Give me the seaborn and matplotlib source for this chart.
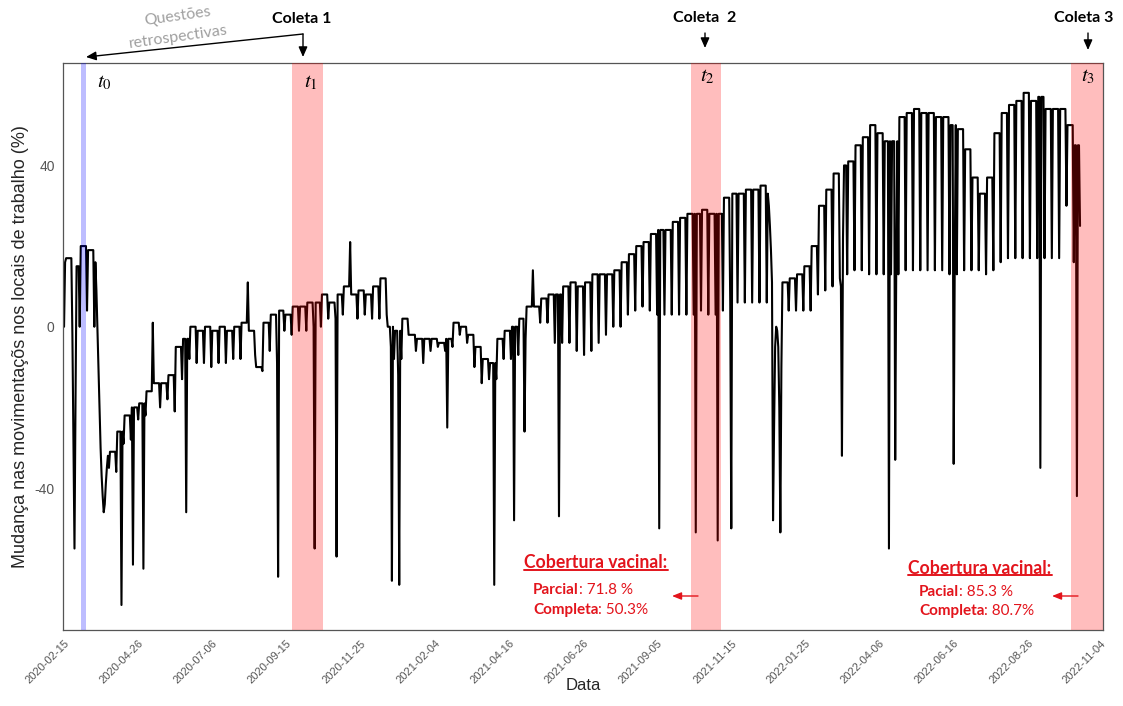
import numpy as np
import pandas as pd
import matplotlib
matplotlib.use("Agg")
import matplotlib.pyplot as plt
import seaborn as sns
from matplotlib.lines import Line2D

# ---------------- data ----------------
start_date = "2020-02-15"
end_date = "2022-10-15"
first_days = [0, 16]  # Sat 15/Feb and Sun 16/Feb 2020

# weekly levels: Mon-Sat value and Sunday value (weeks start Mon 2020-02-17)
week_hi = [17, 15, 20, 19, 16, -42, -31, -26, -22, -20,
           -19, -16, -14, -14, -12, -5, -3, 0, -1, 0,
           -1, 0, -1, 0, 1, -1, -10, 1, 3, 4,
           3, 5, 5, 6, 6, 8, 6, 8, 10, 8,
           9, 8, 10, 12, 0, -1, 2, -2, -3, -3,
           -3, -4, -3, 1, 0, -2, -5, -8, -9, -3,
           -1, 0, 2, 5, 5, 7, 8, 8, 10, 11,
           10, 11, 13, 13, 13, 14, 16, 18, 20, 21,
           23, 24, 24, 26, 27, 28, 28, 29, 28, 28,
           32, 33, 33, 34, 34, 35, 33, 0, 11, 12,
           13, 15, 20, 30, 34, 38, 40, 41, 45, 47,
           50, 48, 46, 46, 52, 53, 54, 53, 53, 52,
           52, 50, 49, 44, 37, 33, 37, 48, 53, 55,
           56, 58, 56, 57, 54, 54, 54, 50, 45]
week_lo = [-2, 0, 4, 0, -35, -35, -36, -29, -28, -23,
           -22, -19, -20, -18, -21, -13, -8, -9, -9, -10,
           -9, -9, -8, -8, -7, -7, -11, -6, -9, -1,
           -2, -1, -1, 0, 0, 2, 2, 3, 3, 2,
           3, 2, 2, 3, -8, -8, -2, -6, -9, -6,
           -5, -6, -5, -2, -4, -10, -14, -13, -13, -8,
           -8, -7, -3, 0, 1, 1, -4, -4, -4, -6,
           -7, -6, -4, -2, 0, 0, 3, 4, 5, 4,
           3, 3, 3, 3, 3, 3, 4, 3, 3, 4,
           6, 6, 6, 6, 6, 6, 11, -5, 4, 4,
           4, 4, 8, 9, 10, 12, 13, 14, 14, 13,
           13, 13, 13, 13, 14, 14, 14, 14, 14, 14,
           13, 13, 14, 14, 14, 13, 14, 16, 17, 17,
           17, 17, 17, 17, 17, 17, 17, 16, 25]

# individual days (holidays, lockdown onset, elections...)
special_dates = ["2020-02-24", "2020-02-25", "2020-02-26",
                 "2020-03-16", "2020-03-17", "2020-03-18", "2020-03-19", "2020-03-20",
                 "2020-03-21", "2020-03-22", "2020-03-23", "2020-03-24", "2020-03-25",
                 "2020-03-26", "2020-03-27", "2020-03-28", "2020-03-29",
                 "2020-04-10", "2020-04-21", "2020-05-01", "2020-05-10", "2020-06-11",
                 "2020-08-09", "2020-09-07", "2020-10-12", "2020-11-02", "2020-11-15",
                 "2020-12-24", "2020-12-25", "2020-12-31", "2021-01-01",
                 "2021-02-16", "2021-04-02", "2021-04-21", "2021-05-01", "2021-05-09",
                 "2021-06-03", "2021-09-07", "2021-10-12", "2021-11-02", "2021-11-15",
                 "2021-12-20", "2021-12-21", "2021-12-22", "2021-12-23", "2021-12-24",
                 "2021-12-25", "2021-12-26", "2021-12-27", "2021-12-28", "2021-12-29",
                 "2021-12-30", "2021-12-31", "2022-01-01", "2022-01-02",
                 "2022-02-28", "2022-03-01", "2022-03-02", "2022-04-15", "2022-04-21",
                 "2022-04-22", "2022-06-16", "2022-06-17", "2022-09-07", "2022-10-02",
                 "2022-10-12", "2022-10-15"]
special_vals = [-28, -55, -18,
                16, 9, -1, -11, -21,
                -30, -37, -42, -46, -44,
                -39, -35, -32, -35,
                -69, -59, -60, 1, -46,
                11, -62, -55, -57, 21,
                -5, -63, -12, -64,
                -25, -64, -48, -26, 14,
                -47, -50, -51, -53, -50,
                33, 30, 25, 19, 11,
                -48, -25, -5, 0, -1,
                -5, -20, -51, -10,
                10, -32, 22, -55, -33,
                15, -34, 15, -35, 30,
                -42, 25]

tick_labels = ["2020-02-15", "2020-04-26", "2020-07-06", "2020-09-15", "2020-11-25",
               "2021-02-04", "2021-04-16", "2021-06-26", "2021-09-05", "2021-11-15",
               "2022-01-25", "2022-04-06", "2022-06-16", "2022-08-26", "2022-11-04"]
y_ticks = [-40, 0, 40]

collection_periods = [("2020-03-02", "2020-03-07 12:00"),
                      ("2020-09-20 14:00", "2020-10-20 08:00"),
                      ("2021-10-07", "2021-11-05"),
                      ("2022-10-06 08:00", "2022-11-06")]
period_colors = ["#0000ff", "#ff0000", "#ff0000", "#ff0000"]
period_labels = [r"$t_0$", r"$t_1$", r"$t_2$", r"$t_3$"]

# ---------------- build the daily series ----------------
dates = pd.date_range(start_date, end_date, freq="D")
vals = list(first_days)
for h, l in zip(week_hi, week_lo):
    vals += [h] * 6 + [l]
series = pd.Series(np.array(vals[:len(dates)], dtype=float), index=dates)
for d, v in zip(special_dates, special_vals):
    series[pd.Timestamp(d)] = v
df = pd.DataFrame({"Data": dates, "valor": series.values})

# ---------------- figure ----------------
sns.set_style("white")
plt.rcParams["font.family"] = ["Liberation Sans", "DejaVu Sans"]
plt.rcParams["mathtext.fontset"] = "stix"

W, H = 1123, 706
fig = plt.figure(figsize=(W / 100, H / 100), dpi=100)
ax = fig.add_axes([63 / W, 1 - 630 / H, (1103 - 63) / W, (630 - 63) / H])

sns.lineplot(data=df, x="Data", y="valor", color="black", linewidth=1.5,
             estimator=None, ax=ax, zorder=2)

for (a, b), c in zip(collection_periods, period_colors):
    ax.axvspan(pd.Timestamp(a), pd.Timestamp(b), color=c, alpha=0.26, lw=0, zorder=3)

ax.set_xlim(pd.Timestamp("2020-02-14"), pd.Timestamp("2022-11-06"))
ax.set_ylim(-75.2, 65.4)
ax.set_xticks(pd.to_datetime(tick_labels))
ax.set_xticklabels(tick_labels, rotation=45, ha="right", rotation_mode="anchor",
                   fontsize=8, color="#555555")
ax.set_yticks(y_ticks)
ax.set_yticklabels([str(v) for v in y_ticks], fontsize=10, color="#555555")
ax.tick_params(axis="both", direction="out", length=4, width=1, color="#333333", pad=2)
for sp in ax.spines.values():
    sp.set_visible(True)
    sp.set_color("#555555")
    sp.set_linewidth(0.9)

ax.set_xlabel("Data", fontsize=12, va="center")
ax.xaxis.set_label_coords((583 - 63) / 1040, -(685 - 630) / 567)
ax.set_ylabel("Mudança nas movimentaçõs nos locais de trabalho (%)", fontsize=13, labelpad=4)


def P(x, y):
    return (x / W, 1 - y / H)


calibri = ["Lato", "DejaVu Sans"]

# period labels inside the panel
for (px, py), lab in zip([(104, 83), (311, 83), (707, 77), (1088, 77)], period_labels):
    fig.text(*P(px, py), lab, fontsize=15, ha="center", va="center", color="black")

# header annotations
fig.text(*P(178, 16), "Questões", family=calibri, fontsize=11.5,
         color="#a0a0a0", ha="center", va="center", rotation=8, rotation_mode="anchor")
fig.text(*P(178, 37), "retrospectivas", family=calibri, fontsize=11.5,
         color="#a0a0a0", ha="center", va="center", rotation=8, rotation_mode="anchor")
for (px, py), lab in zip([(302, 19), (705, 18), (1084, 18)], ["Coleta 1", "Coleta  2", "Coleta 3"]):
    fig.text(*P(px, py), lab, family=calibri, fontsize=11.5, weight="bold",
             ha="center", va="center", color="black")

arrow_kw = dict(arrowstyle="-|>,head_length=0.5,head_width=0.22", color="black",
                lw=1.0, shrinkA=0, shrinkB=0, mutation_scale=12)
ax.annotate("", xy=P(86, 57), xytext=P(303, 34), xycoords="figure fraction",
            textcoords="figure fraction", arrowprops=arrow_kw, annotation_clip=False)
for (x0, y0, y1) in [(303, 34, 57), (705, 33, 48), (1088, 33, 50)]:
    ax.annotate("", xy=P(x0, y1), xytext=P(x0, y0), xycoords="figure fraction",
                textcoords="figure fraction", arrowprops=arrow_kw, annotation_clip=False)

# vaccination coverage boxes
red = "#e3141c"
cov_blocks = [((596, 563), (533, 590), (533, 610), "Parcial", ": 71.8 %", ": 50.3%", (698, 672)),
              ((980, 568), (919, 592), (919, 611), "Pacial", ": 85.3 %", ": 80.7%", (1078, 1052))]
fig.canvas.draw()
for (tpos, l1, l2, lab1, v1, v2, (ax0, ax1)) in cov_blocks:
    t = fig.text(*P(*tpos), "Cobertura vacinal:", family=calibri, fontsize=12.7,
                 weight="bold", color=red, ha="center", va="center")
    fig.canvas.draw()
    bb = t.get_window_extent().transformed(fig.transFigure.inverted())
    uy = bb.y0 + 0.002
    fig.add_artist(Line2D([bb.x0, bb.x1], [uy, uy], transform=fig.transFigure,
                          color=red, lw=1.4))
    for (pos, lab, val) in [(l1, lab1, v1), (l2, "Completa", v2)]:
        tb = fig.text(*P(*pos), lab, family=calibri, fontsize=11, weight="bold",
                      color=red, ha="left", va="center")
        ax.annotate(val, xy=(1, 0.5), xycoords=tb, family=calibri, fontsize=11,
                    color=red, ha="left", va="center", annotation_clip=False)
    ax.annotate("", xy=P(ax1, 596), xytext=P(ax0, 596), xycoords="figure fraction",
                textcoords="figure fraction", annotation_clip=False,
                arrowprops=dict(arrowstyle="-|>,head_length=0.5,head_width=0.2",
                                color=red, lw=1.0, shrinkA=0, shrinkB=0,
                                mutation_scale=11))

fig.savefig("out.png", dpi=100)
